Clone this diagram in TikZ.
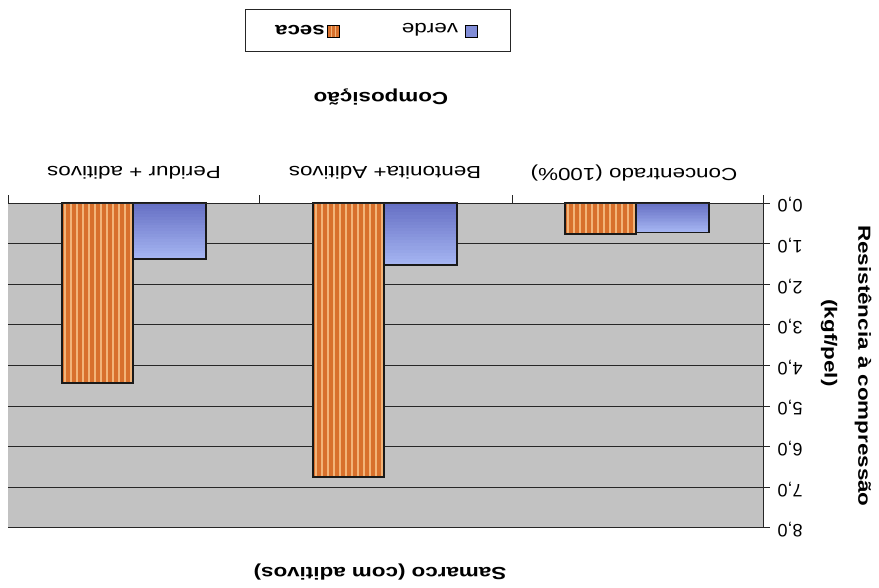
\documentclass[tikz,border=0pt]{standalone}
\usepackage{fontspec}
\setmainfont[FakeStretch=1.28]{Liberation Sans}
\newfontfamily\plainfont{Liberation Sans}
\begin{document}
\begin{tikzpicture}[x=1pt,y=-1pt,
  lbl/.style={rotate=180,inner sep=0pt,font=\fontsize{17.5}{20}\selectfont},
  blbl/.style={lbl,font=\fontsize{17.5}{20}\selectfont\bfseries},
  vlbl/.style={rotate=-90,inner sep=0pt,font=\fontsize{17.5}{20}\selectfont\bfseries},
  ticklbl/.style={rotate=180,inner sep=0pt,font=\plainfont\fontsize{18}{20}\selectfont},
  grid/.style={draw=black!85,line width=0.9pt},
  barout/.style={draw=black!90,line width=1.3pt},
]
\definecolor{plotgray}{HTML}{C2C2C2}
\definecolor{barorange}{HTML}{D8702C}
\definecolor{stripe}{HTML}{F2B478}
\definecolor{bluetop}{HTML}{6670C4}
\definecolor{bluebot}{HTML}{A8B8F4}
\useasboundingbox (0,0) rectangle (879,587);
% plot area
\fill[plotgray] (8,203) rectangle (763,527);
\foreach \k in {1,...,8}{
  \draw[grid] (8,{203+40.6*\k}) -- (763,{203+40.6*\k});
}
% bars: orange (seca) with stripes, blue (verde) darker near the axis
\foreach \xl/\vo/\vb [count=\i] in {565/0.76/0.72, 313/6.75/1.53, 62/4.43/1.38}{
  \pgfmathsetmacro{\yo}{203+40.6*\vo}
  \pgfmathsetmacro{\yb}{203+40.6*\vb}
  \fill[barorange] (\xl,203) rectangle ({\xl+71},\yo);
  \foreach \s in {0,...,11}{
    \draw[stripe,line width=1.3pt] ({\xl+3+6*\s},203) -- ({\xl+3+6*\s},\yo);
  }
  \draw[barout] (\xl,203) rectangle ({\xl+71},\yo);
  \foreach \b in {0,...,19}{
    \pgfmathsetmacro{\pc}{100-5*\b}
    \fill[bluetop!\pc!bluebot] ({\xl+71},{203+(\yb-203)*\b/20}) rectangle ({\xl+144},{203+(\yb-203)*(\b+1)/20+0.3});
  }
  \draw[barout] ({\xl+71},203) rectangle ({\xl+144},\yb);
}
% axes
\draw[grid] (8,203) -- (763,203);
\draw[grid] (763,203) -- (763,527);
\foreach \k in {0,...,8}{
  \draw[grid] (763,{203+40.6*\k}) -- (770,{203+40.6*\k});
  \pgfmathsetmacro{\lab}{int(\k)}
  \node[ticklbl] (t\k) at (790,{205+40.6*\k}) {\lab,0};
}
\foreach \x in {8,259,512,763}{
  \draw[grid] (\x,203) -- (\x,195);
}
% category labels
\node[lbl] (c1) at (634,173) {Concentrado (100\%)};
\node[lbl] (c2) at (385,173) {Bentonita+ Aditivos};
\node[lbl] (c3) at (134,173) {Peridur + aditivos};
% titles
\node[blbl] (xt) at (381,97) {Composição};
\node[blbl] (st) at (380,572) {Samarco (com aditivos)};
\node[vlbl] (yt1) at (863,366) {Resistência à compressão};
\node[vlbl] (yt2) at (829,343) {(kgf/pel)};
% legend
\draw[black!85,line width=0.9pt] (245,9) rectangle (510,51);
\fill[bluetop!60!bluebot] (465,25) rectangle (477,37);
\draw[black,line width=0.6pt] (465,25) rectangle (477,37);
\node[lbl] (lv) at (430,30) {verde};
\fill[barorange] (327,25) rectangle (339,37);
\draw[stripe,line width=1pt] (331,25) -- (331,37) (335,25) -- (335,37);
\draw[black,line width=0.6pt] (327,25) rectangle (339,37);
\node[blbl] (ls) at (300,30) {seca};
\end{tikzpicture}
\end{document}
